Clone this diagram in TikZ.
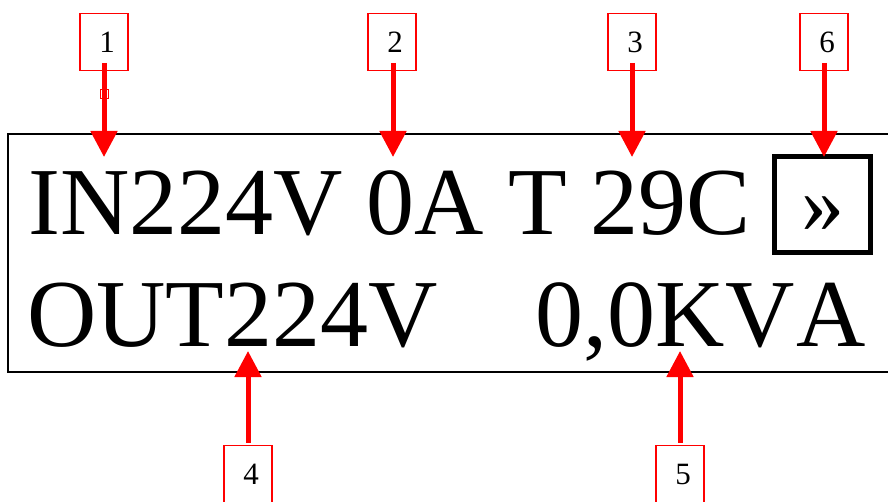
\documentclass[tikz,border=0pt]{standalone}
\usepackage{fontspec}
\setmainfont{Liberation Serif}
\usetikzlibrary{arrows.meta}
\tikzset{
  numbox/.style={draw=red, line width=1.5pt, minimum width=48pt, minimum height=57pt, inner sep=0pt, font=\fontsize{31}{31}\selectfont, text=black},
  callout/.style={draw=red, line width=5pt, -{Triangle[length=26pt,width=26pt]}},
  lcd/.style={inner sep=0pt, font=\fontsize{96}{96}\selectfont, text=black},
}
\begin{document}
\begin{tikzpicture}[x=1pt,y=-1pt]
\useasboundingbox (0,0) rectangle (888,502);
\clip (0,0) rectangle (888,502);
% display frame
\draw[line width=2pt] (900,134) -- (8,134) -- (8,372) -- (900,372);
% text lines
\node[lcd, anchor=base west] (l1) at (28,235) {IN224V 0A T 29C};
\node[lcd, anchor=base west] (l2a) at (27,346) {OUT224V};
\node[lcd, anchor=base west] (l2b) at (535,346) {0,0K\kern1pt V\kern2pt A};
% >> button
\draw[line width=5pt] (774.5,156.5) rectangle (870.5,252.5);
\node[lcd, anchor=base, font=\fontsize{86}{86}\selectfont] (btn) at (823,233) {»};
\coordinate (btntop) at (824,157);
% number boxes
\node[numbox] (b1) at (104,42) {\hspace*{6pt}1};
\node[numbox] (b2) at (392,42) {\hspace*{6pt}2};
\node[numbox] (b3) at (632,42) {\hspace*{6pt}3};
\node[numbox] (b6) at (824,42) {\hspace*{6pt}6};
\node[numbox] (b4) at (248,474) {\hspace*{6pt}4};
\node[numbox] (b5) at (680,474) {\hspace*{6pt}5};
% arrow tips
\coordinate (t1) at (104,157);
\coordinate (t2) at (393,157);
\coordinate (t3) at (632,157);
\coordinate (t4) at (248,351);
\coordinate (t5) at (680,351);
% arrows
\draw[callout] ([yshift=-21pt]b1.center) -- (t1);
\draw[callout] ([xshift=1pt,yshift=-21pt]b2.center) -- (t2);
\draw[callout] ([yshift=-21pt]b3.center) -- (t3);
\draw[callout] ([yshift=-21pt]b6.center) -- (btntop);
\draw[callout] ([yshift=2pt]b4.north) -- (t4);
\draw[callout] ([yshift=2pt]b5.north) -- (t5);
% small marker on arrow 1
\draw[red, line width=0.8pt] (100,89) rectangle (108,98);
\end{tikzpicture}
\end{document}
